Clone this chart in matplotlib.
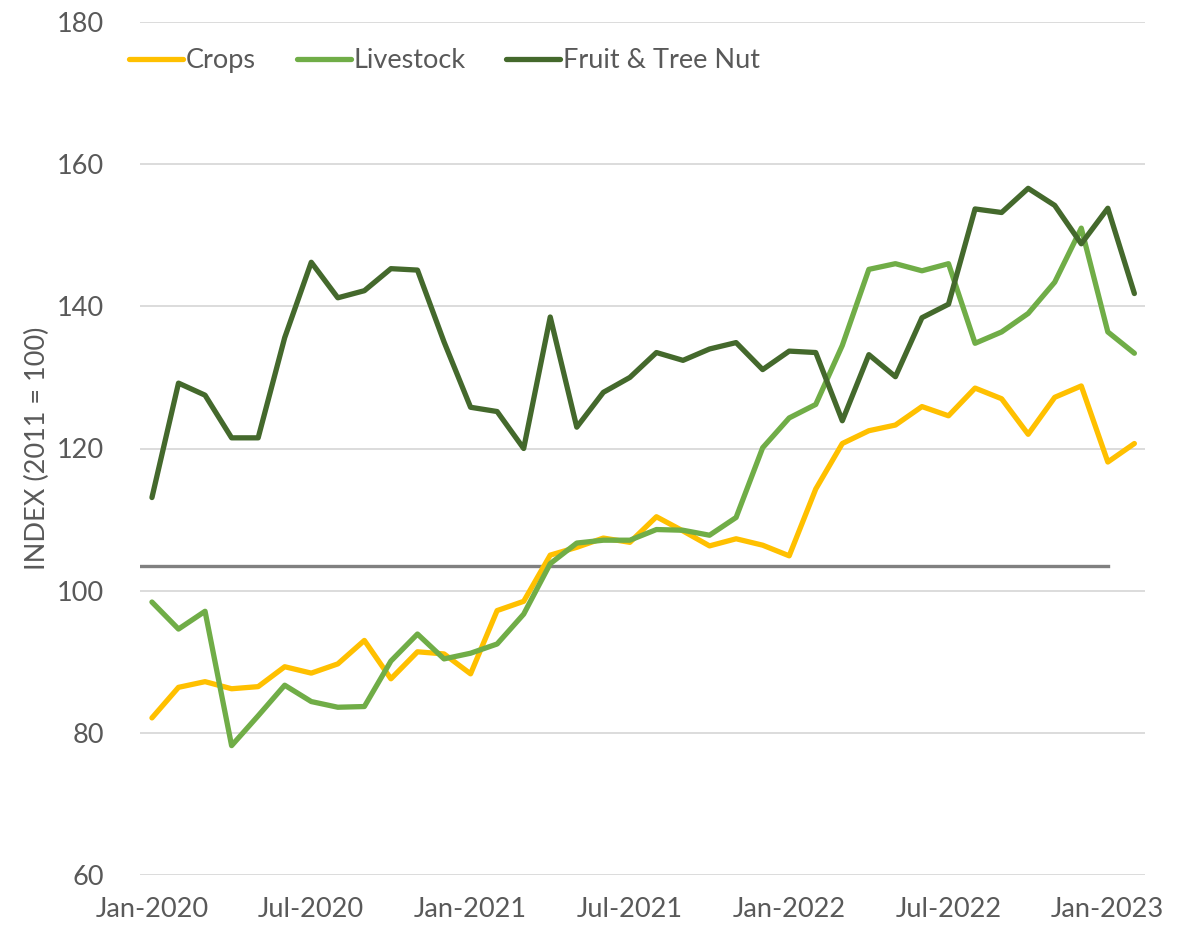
import numpy as np
import matplotlib.pyplot as plt

# monthly index values, Jan-2020 .. Feb-2023
months = ['Jan-2020', 'Feb-2020', 'Mar-2020', 'Apr-2020', 'May-2020', 'Jun-2020',
          'Jul-2020', 'Aug-2020', 'Sep-2020', 'Oct-2020', 'Nov-2020', 'Dec-2020',
          'Jan-2021', 'Feb-2021', 'Mar-2021', 'Apr-2021', 'May-2021', 'Jun-2021',
          'Jul-2021', 'Aug-2021', 'Sep-2021', 'Oct-2021', 'Nov-2021', 'Dec-2021',
          'Jan-2022', 'Feb-2022', 'Mar-2022', 'Apr-2022', 'May-2022', 'Jun-2022',
          'Jul-2022', 'Aug-2022', 'Sep-2022', 'Oct-2022', 'Nov-2022', 'Dec-2022',
          'Jan-2023', 'Feb-2023']

crops = [82.1, 86.4, 87.2, 86.2, 86.5, 89.3, 88.4, 89.7, 93.0, 87.6, 91.4, 91.1,
         88.3, 97.2, 98.5, 105.0, 106.1, 107.4, 106.8, 110.4, 108.4, 106.3, 107.3, 106.4,
         104.9, 114.3, 120.7, 122.5, 123.3, 125.9, 124.6, 128.5, 127.0, 122.0, 127.2, 128.8,
         118.1, 120.7]

livestock = [98.4, 94.6, 97.1, 78.2, 82.4, 86.7, 84.4, 83.6, 83.7, 90.1, 93.9, 90.4,
             91.2, 92.5, 96.7, 103.8, 106.7, 107.1, 107.1, 108.6, 108.5, 107.8, 110.3, 120.1,
             124.3, 126.2, 134.5, 145.2, 146.0, 145.0, 146.0, 134.8, 136.4, 139.0, 143.4, 151.0,
             136.4, 133.4]

fruit_nut = [113.1, 129.2, 127.5, 121.5, 121.5, 135.6, 146.2, 141.2, 142.2, 145.3, 145.1, 135.0,
             125.8, 125.2, 120.0, 138.5, 123.0, 127.9, 130.0, 133.5, 132.4, 134.0, 134.9, 131.1,
             133.7, 133.5, 123.9, 133.2, 130.1, 138.4, 140.3, 153.7, 153.2, 156.6, 154.2, 148.8,
             153.8, 141.8]

ref_level = 103.4  # flat gray reference line

tick_labels = ['Jan-2020', 'Jul-2020', 'Jan-2021', 'Jul-2021', 'Jan-2022', 'Jul-2022', 'Jan-2023']

plt.rcParams['font.family'] = ['Lato', 'DejaVu Sans']
txt = '#595959'

fig = plt.figure(figsize=(11.87, 9.31), dpi=100)
ax = fig.add_axes([140/1187, 1 - 875/931, (1145-140)/1187, (875-22)/931])

x = np.arange(len(months))
style = dict(lw=3.8, solid_joinstyle='round', solid_capstyle='round')
ax.plot(x, crops, color='#FFC000', label='Crops', **style)
ax.plot(x, livestock, color='#70AD47', label='Livestock', **style)
ax.plot(x, fruit_nut, color='#44692C', label='Fruit & Tree Nut', **style)

# gray reference line
ax.plot([-0.45, 36.0], [ref_level, ref_level], color='#808080', lw=2.4, zorder=1)

ax.set_xlim(-0.45, 37.4)
ax.set_ylim(60, 180)
ax.set_yticks(range(60, 181, 20))
ax.set_xticks([months.index(m) for m in tick_labels])
ax.set_xticklabels(tick_labels)
ax.grid(axis='y', color='#D9D9D9', lw=1.3)
ax.set_axisbelow(True)
for s in ax.spines.values():
    s.set_visible(False)
ax.tick_params(length=0, labelsize=19.5, colors=txt)
ax.tick_params(axis='x', pad=16)
ax.tick_params(axis='y', pad=26)
ax.set_ylabel('INDEX (2011 = 100)', fontsize=19.5, color=txt, labelpad=5)

leg = ax.legend(loc='upper left', bbox_to_anchor=(-0.035, 0.998), ncol=3, frameon=False,
                fontsize=19.5, handlelength=2.0, handletextpad=0.1, columnspacing=1.5)
for t in leg.get_texts():
    t.set_color(txt)

fig.savefig('out.png', dpi=100)
